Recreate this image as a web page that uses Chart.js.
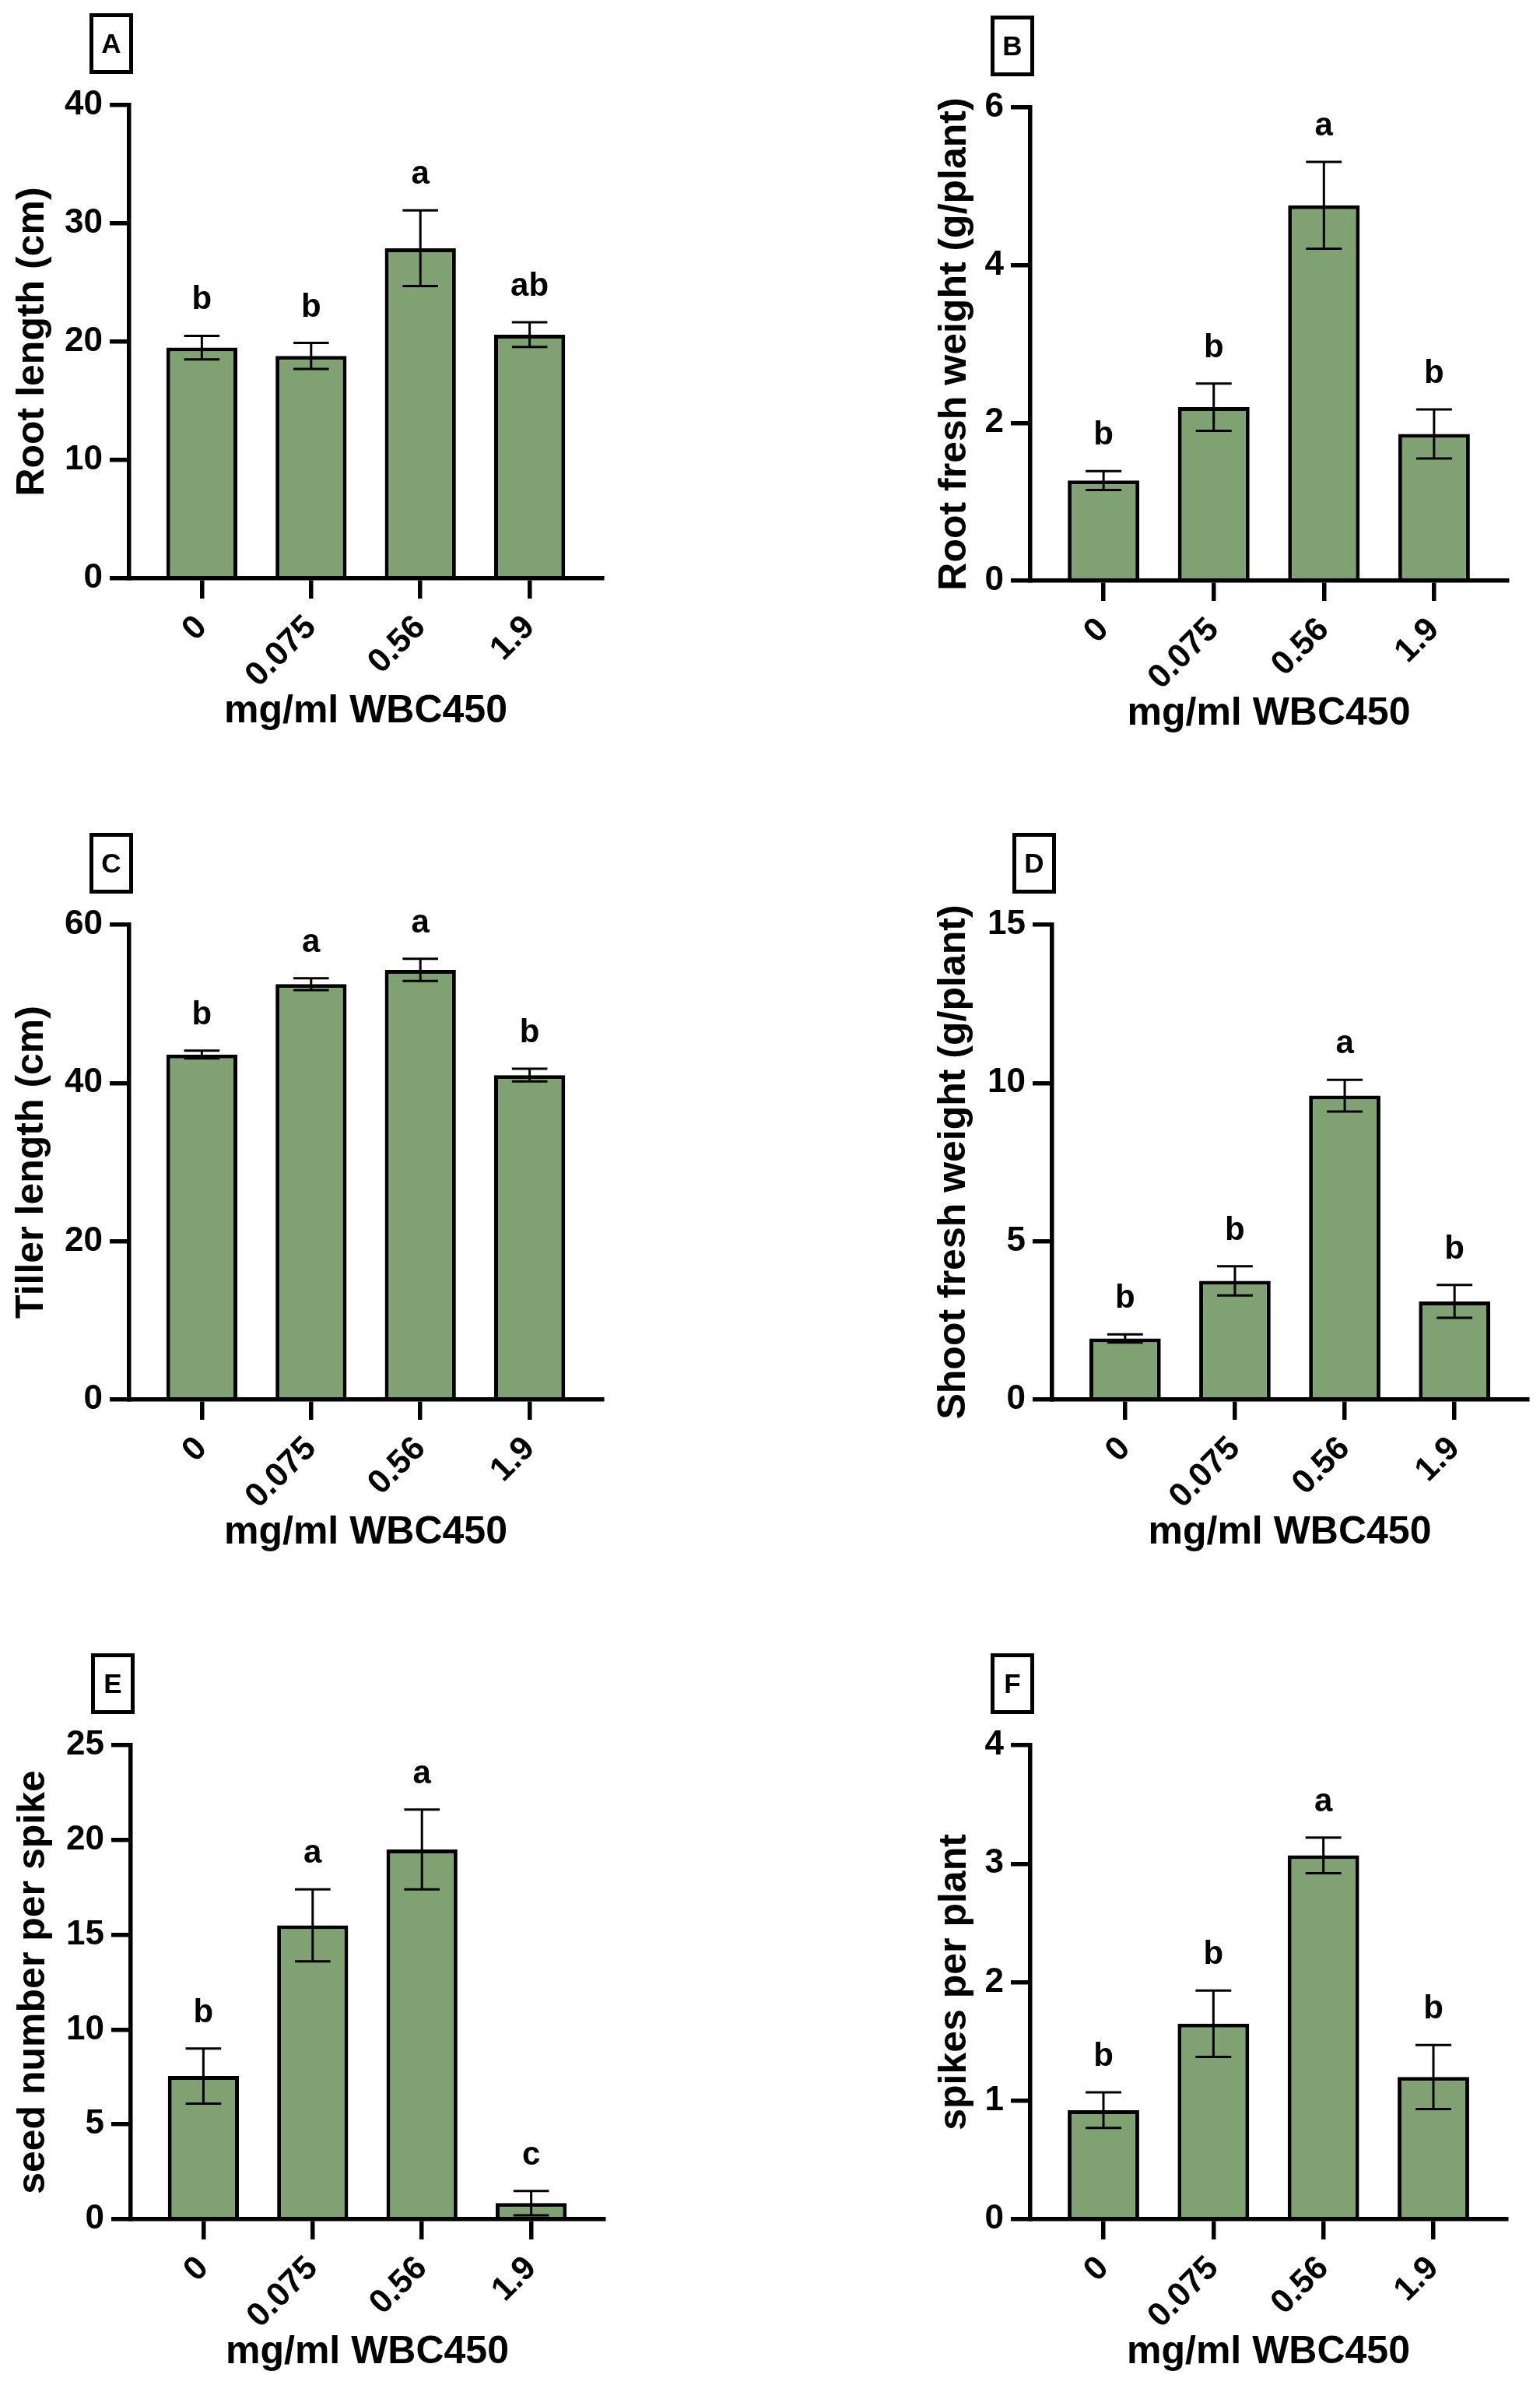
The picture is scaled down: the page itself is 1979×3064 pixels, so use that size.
<!DOCTYPE html>
<html>
<head>
<meta charset="utf-8">
<script src="https://cdn.jsdelivr.net/npm/chart.js@4.4.1/dist/chart.umd.min.js"></script>
<style>
  html, body { margin: 0; padding: 0; background: #fff; }
  body { width: 1979px; height: 3064px; position: relative; overflow: hidden; font-family: 'Liberation Sans', Arial, sans-serif; }
  canvas { position: absolute; }
  .tag { position: absolute; box-sizing: border-box; width: 56px; height: 78px; border: 5px solid #000;
         font-weight: bold; font-size: 35px; display: flex; align-items: center; justify-content: center; color: #000; }
</style>
</head>
<body>
<script>
// categories (dose of WBC450, mg/ml)
const doses = ['0', '0.075', '0.56', '1.9'];
const xTitle = 'mg/ml WBC450';

// A - root length
const rootLengthMean = [19.5, 18.8, 27.9, 20.6];
const rootLengthSem = [1.0, 1.1, 3.2, 1.05];
const rootLengthLetters = ['b', 'b', 'a', 'ab'];
const rootLengthTicks = [0, 10, 20, 30, 40];

// B - root fresh weight
const rootWeightMean = [1.27, 2.2, 4.76, 1.86];
const rootWeightSem = [0.12, 0.3, 0.55, 0.31];
const rootWeightLetters = ['b', 'b', 'a', 'b'];
const rootWeightTicks = [0, 2, 4, 6];

// C - tiller length
const tillerMean = [43.6, 52.5, 54.3, 41.0];
const tillerSem = [0.5, 0.75, 1.4, 0.8];
const tillerLetters = ['b', 'a', 'a', 'b'];
const tillerTicks = [0, 20, 40, 60];

// D - shoot fresh weight
const shootWeightMean = [1.93, 3.75, 9.6, 3.1];
const shootWeightSem = [0.13, 0.46, 0.5, 0.52];
const shootWeightLetters = ['b', 'b', 'a', 'b'];
const shootWeightTicks = [0, 5, 10, 15];

// E - seed number per spike
const seedMean = [7.55, 15.5, 19.5, 0.85];
const seedSem = [1.45, 1.9, 2.1, 0.64];
const seedLetters = ['b', 'a', 'a', 'c'];
const seedTicks = [0, 5, 10, 15, 20, 25];

// F - spikes per plant
const spikesMean = [0.92, 1.65, 3.07, 1.2];
const spikesSem = [0.15, 0.28, 0.15, 0.27];
const spikesLetters = ['b', 'b', 'a', 'b'];
const spikesTicks = [0, 1, 2, 3, 4];

const BAR_GREEN = 'rgb(128,162,114)';
const FONT = "'Liberation Sans', Arial, sans-serif";

Chart.defaults.font.family = FONT;
Chart.defaults.color = '#000';

const panels = [
  { tag: 'A', title: 'Root length (cm)', mean: rootLengthMean, sem: rootLengthSem, letters: rootLengthLetters, ticks: rootLengthTicks,
    col: 0, area: { left: 166, top: 135, right: 774, bottom: 743 }, titleX: 42 },
  { tag: 'B', title: 'Root fresh weight (g/plant)', mean: rootWeightMean, sem: rootWeightSem, letters: rootWeightLetters, ticks: rootWeightTicks,
    col: 990, area: { left: 1324, top: 138, right: 1937, bottom: 746 }, titleX: 1227 },
  { tag: 'C', title: 'Tiller length (cm)', mean: tillerMean, sem: tillerSem, letters: tillerLetters, ticks: tillerTicks,
    col: 0, area: { left: 166, top: 1188, right: 774, bottom: 1798 }, titleX: 41 },
  { tag: 'D', title: 'Shoot fresh weight (g/plant)', mean: shootWeightMean, sem: shootWeightSem, letters: shootWeightLetters, ticks: shootWeightTicks,
    col: 990, area: { left: 1352, top: 1188, right: 1963, bottom: 1798 }, titleX: 1226 },
  { tag: 'E', title: 'seed number per spike', mean: seedMean, sem: seedSem, letters: seedLetters, ticks: seedTicks,
    col: 0, area: { left: 168, top: 2242, right: 776, bottom: 2851 }, titleX: 43 },
  { tag: 'F', title: 'spikes per plant', mean: spikesMean, sem: spikesSem, letters: spikesLetters, ticks: spikesTicks,
    col: 990, area: { left: 1324, top: 2242, right: 1936, bottom: 2851 }, titleX: 1227 }
];

// error bars (mean +/- SEM) and significance letters
const errorBars = {
  id: 'errorBars',
  afterDatasetsDraw(chart) {
    const { ctx, scales: { x, y } } = chart;
    const ds = chart.data.datasets[0];
    const meta = chart.getDatasetMeta(0);
    ctx.save();
    ctx.strokeStyle = '#000';
    ctx.fillStyle = '#000';
    ctx.lineWidth = 3;
    ctx.font = 'bold 42px ' + FONT;
    ctx.textAlign = 'center';
    ctx.textBaseline = 'alphabetic';
    meta.data.forEach((bar, i) => {
      const cx = x.getPixelForValue(i);
      const hi = y.getPixelForValue(ds.mean[i] + ds.sem[i]);
      const lo = y.getPixelForValue(ds.mean[i] - ds.sem[i]);
      const cap = bar.width * 0.25;
      ctx.beginPath();
      ctx.moveTo(cx, hi); ctx.lineTo(cx, lo);
      ctx.moveTo(cx - cap, hi); ctx.lineTo(cx + cap, hi);
      ctx.moveTo(cx - cap, lo); ctx.lineTo(cx + cap, lo);
      ctx.stroke();
      ctx.fillText(ds.letters[i], cx, hi - 34);
    });
    ctx.restore();
  }
};

panels.forEach(p => {
  const a = p.area;
  const cTop = a.top - 100;
  const cLeft = p.col;
  const cW = 989;
  const xAxisH = 201;
  const cH = a.bottom + xAxisH - cTop;

  const canvas = document.createElement('canvas');
  canvas.width = cW;
  canvas.height = cH;
  canvas.style.left = cLeft + 'px';
  canvas.style.top = cTop + 'px';
  canvas.style.width = cW + 'px';
  canvas.style.height = cH + 'px';
  document.body.appendChild(canvas);

  const tag = document.createElement('div');
  tag.className = 'tag';
  tag.textContent = p.tag;
  tag.style.left = (a.left + 5 - 56) + 'px';
  tag.style.top = (a.top - 118) + 'px';
  document.body.appendChild(tag);

  new Chart(canvas.getContext('2d'), {
    type: 'bar',
    data: {
      datasets: [{
        data: doses.map((d, i) => ({ x: i, y: p.mean[i] })),
        mean: p.mean,
        sem: p.sem,
        letters: p.letters,
        backgroundColor: BAR_GREEN,
        borderColor: '#000',
        borderWidth: 5,
        barPercentage: 0.65,
        categoryPercentage: 1
      }]
    },
    options: {
      responsive: false,
      animation: false,
      devicePixelRatio: 1,
      layout: { padding: { top: a.top - cTop, left: 0, right: cLeft + cW - a.right, bottom: 0 } },
      plugins: { legend: { display: false }, tooltip: { enabled: false } },
      scales: {
        x: {
          type: 'linear',
          offset: false,
          min: -0.665,
          max: 3.665,
          afterBuildTicks: s => { s.ticks = doses.map((d, i) => ({ value: i })); },
          afterFit: s => { s.height = xAxisH; },
          ticks: {
            autoSkip: false,
            minRotation: 45,
            maxRotation: 45,
            padding: 12,
            color: '#000',
            font: { size: 43, weight: 'bold' },
            callback: v => doses[v]
          },
          grid: { offset: false, drawOnChartArea: false, drawTicks: true, tickLength: 26, lineWidth: 5.5, color: '#000' },
          border: { display: true, width: 5.5, color: '#000', z: 1 },
          title: { display: true, text: xTitle, color: '#000', font: { size: 50, weight: 'bold' }, padding: { top: 0, bottom: 0 } }
        },
        y: {
          min: p.ticks[0],
          max: p.ticks[p.ticks.length - 1],
          afterBuildTicks: s => { s.ticks = p.ticks.map(v => ({ value: v })); },
          afterFit: s => { s.width = a.left - cLeft; },
          ticks: { padding: 9, color: '#000', font: { size: 44, weight: 'bold' } },
          grid: { drawOnChartArea: false, drawTicks: true, tickLength: 25, lineWidth: 5.5, color: '#000' },
          border: { display: true, width: 5.5, color: '#000', z: 1 },
          title: { display: true, text: p.title, color: '#000', font: { size: 50, weight: 'bold' },
                   padding: { top: p.titleX - cLeft - 30, bottom: 0 } }
        }
      }
    },
    plugins: [errorBars]
  });
});
</script>
</body>
</html>
